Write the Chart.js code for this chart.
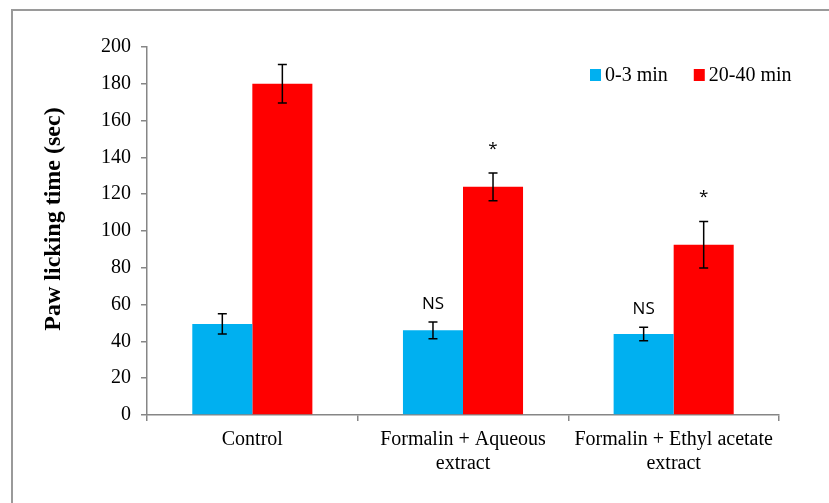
<!DOCTYPE html>
<html>
<head>
<meta charset="utf-8">
<script src="https://cdn.jsdelivr.net/npm/chart.js@4.4.1/dist/chart.umd.min.js"></script>
<style>
  html, body { margin: 0; padding: 0; background: #fff; }
  #wrap { position: relative; width: 829px; height: 503px; overflow: hidden; }
  #frame { position: absolute; left: 11px; top: 9px; right: -5px; bottom: -5px;
           border-top: 2px solid #9a9a9a; border-left: 2px solid #9a9a9a; pointer-events: none; }
  canvas { position: absolute; left: 0; top: 0; }
</style>
</head>
<body>
<div id="wrap">
  <canvas id="c" width="829" height="503"></canvas>
  <div id="frame"></div>
</div>
<script>
// Groups on the x axis (multi-line labels)
const categories = [
  'Control',
  ['Formalin + Aqueous', 'extract'],
  ['Formalin + Ethyl acetate', 'extract']
];
// Paw licking time (sec), mean and error per phase
const early = [49.5, 46, 44];
const earlyErr = [5.5, 4.6, 3.7];
const late = [180, 124, 92.5];
const lateErr = [10.5, 7.5, 12.6];
// Significance marks shown above each bar
const earlySig = ['', 'NS', 'NS'];
const lateSig = ['', '*', '*'];
const yTicks = [0, 20, 40, 60, 80, 100, 120, 140, 160, 180, 200];

const serif = '"Liberation Serif", "Times New Roman", serif';
const sans = '"Open Sans", "Liberation Sans", sans-serif';

// Error bars plus NS / * marks above them
const errorBars = {
  id: 'errorBars',
  afterDatasetsDraw(chart) {
    const ctx = chart.ctx;
    const y = chart.scales.y;
    const errs = [earlyErr, lateErr];
    const sigs = [earlySig, lateSig];
    chart.data.datasets.forEach((ds, di) => {
      const meta = chart.getDatasetMeta(di);
      meta.data.forEach((bar, i) => {
        const v = ds.data[i];
        const e = errs[di][i];
        const x = bar.x;
        const yt = y.getPixelForValue(v + e);
        const yb = y.getPixelForValue(v - e);
        ctx.save();
        ctx.strokeStyle = '#000';
        ctx.lineWidth = 1.5;
        ctx.beginPath();
        ctx.moveTo(x, yt); ctx.lineTo(x, yb);
        ctx.moveTo(x - 4.5, yt); ctx.lineTo(x + 4.5, yt);
        ctx.moveTo(x - 4.5, yb); ctx.lineTo(x + 4.5, yb);
        ctx.stroke();
        const s = sigs[di][i];
        if (s) {
          ctx.fillStyle = '#000';
          ctx.textAlign = 'center';
          ctx.textBaseline = 'middle';
          ctx.font = '17px ' + sans;
          if (s === '*') {
            ctx.fillText(s, x, yt - 24);
          } else {
            ctx.fillText(s, x, yt - 18);
          }
        }
        ctx.restore();
      });
    });
  }
};

// Rotated y axis title
const yTitle = {
  id: 'yTitle',
  afterDraw(chart) {
    const ctx = chart.ctx;
    ctx.save();
    ctx.translate(54, 219);
    ctx.rotate(-Math.PI / 2);
    ctx.font = 'bold 24px ' + serif;
    ctx.fillStyle = '#000';
    ctx.textAlign = 'center';
    ctx.textBaseline = 'middle';
    ctx.fillText('Paw licking time (sec)', 0, 0);
    ctx.restore();
  }
};

// Legend placed inside the plot, top right
const innerLegend = {
  id: 'innerLegend',
  afterDraw(chart) {
    const ctx = chart.ctx;
    const area = chart.chartArea;
    const cy = area.top + 27;
    let x = 590;
    ctx.save();
    ctx.font = '20px ' + serif;
    ctx.textBaseline = 'middle';
    ctx.textAlign = 'left';
    chart.data.datasets.forEach((ds) => {
      ctx.fillStyle = ds.backgroundColor;
      ctx.fillRect(x, cy - 5, 11, 12);
      ctx.fillStyle = '#000';
      ctx.fillText(ds.label, x + 15, cy + 2);
      x += 15 + ctx.measureText(ds.label).width + 26;
    });
    ctx.restore();
  }
};

new Chart(document.getElementById('c'), {
  type: 'bar',
  data: {
    labels: categories,
    datasets: [
      { label: '0-3 min', data: early, backgroundColor: '#00B0F0' },
      { label: '20-40 min', data: late, backgroundColor: '#FF0000' }
    ]
  },
  options: {
    responsive: false,
    devicePixelRatio: 1,
    animation: false,
    layout: { padding: { left: 0, right: 50, top: 47, bottom: 0 } },
    datasets: { bar: { categoryPercentage: 0.57, barPercentage: 1.0 } },
    plugins: {
      legend: { display: false },
      tooltip: { enabled: false }
    },
    scales: {
      x: {
        afterFit(s) { s.height = 88; },
        border: { color: '#868686', width: 1.5 },
        grid: { display: true, drawOnChartArea: false, offset: true, tickLength: 6, color: '#868686', lineWidth: 1.5 },
        ticks: { color: '#000', font: { family: serif, size: 20 }, padding: 7, maxRotation: 0 }
      },
      y: {
        min: 0, max: 200,
        afterFit(s) { s.width = 147; },
        afterBuildTicks(s) { s.ticks = yTicks.map(v => ({ value: v })); },
        border: { color: '#868686', width: 1.5 },
        grid: { display: true, drawOnChartArea: false, tickLength: 6, color: '#868686', lineWidth: 1.5 },
        ticks: { color: '#000', font: { family: serif, size: 20 }, padding: 10 }
      }
    }
  },
  plugins: [errorBars, yTitle, innerLegend]
});
</script>
</body>
</html>
